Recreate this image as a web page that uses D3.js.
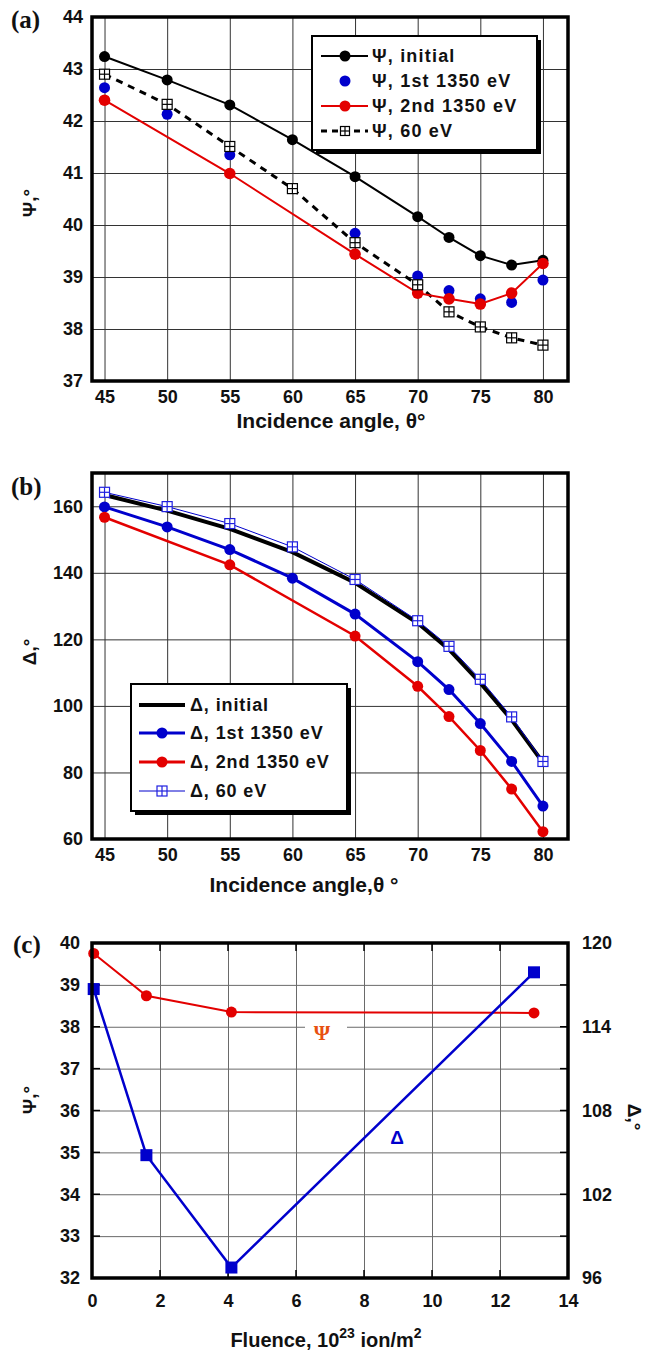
<!DOCTYPE html>
<html>
<head>
<meta charset="utf-8">
<script src="https://cdn.jsdelivr.net/npm/d3@7"></script>
<style>
  body { margin: 0; background: #fff; }
  svg text { font-family: "Liberation Sans", Arial, sans-serif; font-weight: bold; fill: #111; }
  svg text.panel-tag { font-family: "Liberation Serif", "Times New Roman", serif; font-size: 25px; }
</style>
</head>
<body>
<svg id="chart" width="660" height="1351"></svg>
<script>
'use strict';

// ---- data ----
const angles = [45, 50, 55, 60, 65, 70, 72.5, 75, 77.5, 80];
const angleTicks = [45, 50, 55, 60, 65, 70, 75, 80];

// panel (a): Psi vs incidence angle
const psiInitial = [43.24, 42.79, 42.31, 41.64, 40.93, 40.16, 39.76, 39.41, 39.23, 39.32];
const psi1stAngles = [45, 50, 55, 65, 70, 72.5, 75, 77.5, 80];
const psi1st = [42.64, 42.13, 41.35, 39.84, 39.02, 38.74, 38.58, 38.51, 38.94];
const psi2ndAngles = [45, 55, 65, 70, 72.5, 75, 77.5, 80];
const psi2nd = [42.40, 40.99, 39.44, 38.69, 38.58, 38.48, 38.69, 39.26];
const psi60 = [42.90, 42.32, 41.51, 40.70, 39.66, 38.85, 38.33, 38.04, 37.83, 37.69];
const psiTicks = [37, 38, 39, 40, 41, 42, 43, 44];

// panel (b): Delta vs incidence angle
const deltaInitial = [163.4, 158.7, 153.2, 146.2, 137.0, 124.9, 117.0, 106.9, 95.8, 83.0];
const delta1st = [159.8, 153.8, 147.0, 138.4, 127.6, 113.3, 104.9, 94.7, 83.3, 69.9];
const delta2ndAngles = [45, 55, 65, 70, 72.5, 75, 77.5, 80];
const delta2nd = [156.7, 142.4, 121.0, 105.9, 96.8, 86.6, 75.0, 62.2];
const delta60 = [164.2, 159.9, 154.8, 147.8, 138.0, 125.6, 117.9, 108.0, 96.7, 83.3];
const deltaTicks = [60, 80, 100, 120, 140, 160];

// panel (c): Psi and Delta vs fluence
const fluence = [0.05, 1.6, 4.1, 13.0];
const psiFluence = [39.75, 38.74, 38.35, 38.33];
const deltaFluence = [116.7, 104.8, 96.75, 117.9];
const fluenceTicks = [0, 2, 4, 6, 8, 10, 12, 14];
const psiFluenceTicks = [32, 33, 34, 35, 36, 37, 38, 39, 40];
const deltaFluenceTicks = [96, 102, 108, 114, 120];

const BLUE = '#0000cc';
const RED = '#e30000';
const TICK_FONT = 18;
const fmt = d3.format('~g');

const svg = d3.select('#chart');

// Square with a cross inside, like the "60 eV" marker.
function gridSquare(g, cx, cy, size, color) {
  const h = size / 2;
  g.append('rect')
    .attr('x', cx - h).attr('y', cy - h)
    .attr('width', size).attr('height', size)
    .attr('fill', '#fff').attr('stroke', color).attr('stroke-width', 1.2);
  g.append('line').attr('x1', cx).attr('x2', cx).attr('y1', cy - h).attr('y2', cy + h)
    .attr('stroke', color).attr('stroke-width', 1.2);
  g.append('line').attr('x1', cx - h).attr('x2', cx + h).attr('y1', cy).attr('y2', cy)
    .attr('stroke', color).attr('stroke-width', 1.2);
}

function drawGrid(g, x, y, xGrid, yGrid, color) {
  const [x0, x1] = x.range();
  const [y1, y0] = y.range();
  g.append('g')
    .attr('transform', `translate(0,${y0})`)
    .call(d3.axisBottom(x).tickValues(xGrid).tickSize(y1 - y0).tickFormat(''))
    .call(s => s.select('.domain').remove())
    .selectAll('line').attr('stroke', color).attr('stroke-width', 1);
  g.append('g')
    .attr('transform', `translate(${x0},0)`)
    .call(d3.axisRight(y).tickValues(yGrid).tickSize(x1 - x0).tickFormat(''))
    .call(s => s.select('.domain').remove())
    .selectAll('line').attr('stroke', color).attr('stroke-width', 1);
}

function drawFrame(g, x, y) {
  const [x0, x1] = x.range();
  const [y1, y0] = y.range();
  g.append('rect')
    .attr('x', x0).attr('y', y0).attr('width', x1 - x0).attr('height', y1 - y0)
    .attr('fill', 'none').attr('stroke', '#000').attr('stroke-width', 3.5);
}

function tickLabels(g, x, y, xTicks, yTicks, xPad) {
  const [y1] = y.range();
  const [x0] = x.range();
  g.append('g')
    .attr('transform', `translate(0,${y1})`)
    .call(d3.axisBottom(x).tickValues(xTicks).tickFormat(fmt).tickSize(0).tickPadding(xPad))
    .call(s => s.select('.domain').remove())
    .selectAll('text').style('font-size', TICK_FONT + 'px').attr('fill', '#111');
  g.append('g')
    .attr('transform', `translate(${x0},0)`)
    .call(d3.axisLeft(y).tickValues(yTicks).tickFormat(fmt).tickSize(0).tickPadding(9))
    .call(s => s.select('.domain').remove())
    .selectAll('text').style('font-size', TICK_FONT + 'px').attr('fill', '#111');
}

function legendBox(g, x0, y0, w, h) {
  g.append('rect').attr('x', x0 + 4).attr('y', y0 + 4).attr('width', w).attr('height', h).attr('fill', '#000');
  g.append('rect').attr('x', x0).attr('y', y0).attr('width', w).attr('height', h)
    .attr('fill', '#fff').attr('stroke', '#000').attr('stroke-width', 2);
}

const pairs = (xs, ys) => xs.map((v, i) => [v, ys[i]]);

// ================= panel (a) =================
{
  const g = svg.append('g');
  const x = d3.scaleLinear().domain([44, 82]).range([92, 568]);
  const y = d3.scaleLinear().domain([37, 44]).range([381, 17]);
  const line = d3.line().x(d => x(d[0])).y(d => y(d[1]));

  drawGrid(g, x, y, angleTicks, [38, 39, 40, 41, 42, 43], '#333');

  // 60 eV dashed
  g.append('path').datum(pairs(angles, psi60)).attr('d', line)
    .attr('fill', 'none').attr('stroke', '#000').attr('stroke-width', 3).attr('stroke-dasharray', '7,6');
  // initial
  g.append('path').datum(pairs(angles, psiInitial)).attr('d', line)
    .attr('fill', 'none').attr('stroke', '#000').attr('stroke-width', 2);
  // 2nd
  g.append('path').datum(pairs(psi2ndAngles, psi2nd)).attr('d', line)
    .attr('fill', 'none').attr('stroke', RED).attr('stroke-width', 2);

  g.append('g').selectAll('circle').data(pairs(angles, psiInitial)).join('circle')
    .attr('cx', d => x(d[0])).attr('cy', d => y(d[1])).attr('r', 5.5).attr('fill', '#000');
  g.append('g').selectAll('circle').data(pairs(psi1stAngles, psi1st)).join('circle')
    .attr('cx', d => x(d[0])).attr('cy', d => y(d[1])).attr('r', 5.5).attr('fill', BLUE);
  g.append('g').selectAll('circle').data(pairs(psi2ndAngles, psi2nd)).join('circle')
    .attr('cx', d => x(d[0])).attr('cy', d => y(d[1])).attr('r', 5.8).attr('fill', RED);
  const sq = g.append('g');
  pairs(angles, psi60).forEach(d => gridSquare(sq, x(d[0]), y(d[1]), 10, '#000'));

  drawFrame(g, x, y);
  tickLabels(g, x, y, angleTicks, psiTicks, 9);

  // legend
  const lg = g.append('g');
  legendBox(lg, 312, 36, 225, 114);
  const rowsA = ['Ψ, initial', 'Ψ, 1st 1350 eV', 'Ψ, 2nd 1350 eV', 'Ψ, 60 eV'];
  const rowY = [56, 81, 106, 131];
  rowsA.forEach((t, i) => {
    const cy = rowY[i];
    if (i === 0 || i === 2) {
      lg.append('line').attr('x1', 321).attr('x2', 368).attr('y1', cy).attr('y2', cy)
        .attr('stroke', i === 0 ? '#000' : RED).attr('stroke-width', 2);
    }
    if (i === 3) {
      lg.append('line').attr('x1', 321).attr('x2', 368).attr('y1', cy).attr('y2', cy)
        .attr('stroke', '#000').attr('stroke-width', 3).attr('stroke-dasharray', '6,5');
      gridSquare(lg, 345, cy, 9, '#000');
    } else {
      lg.append('circle').attr('cx', 345).attr('cy', cy).attr('r', 5.5)
        .attr('fill', [ '#000', BLUE, RED ][i]);
    }
    lg.append('text').attr('x', 372).attr('y', cy).attr('dy', '0.36em')
      .style('font-size', '18px').style('letter-spacing', '1.2px').text(t);
  });

  g.append('text').attr('transform', 'translate(36,203) rotate(-90)')
    .attr('text-anchor', 'middle').style('font-size', '19px').text('Ψ,°');
  g.append('text').attr('x', 331).attr('y', 428).attr('text-anchor', 'middle')
    .style('font-size', '21px').text('Incidence angle, θ°');
  g.append('text').attr('class', 'panel-tag').attr('x', 11).attr('y', 28).text('(a)');
}

// ================= panel (b) =================
{
  const g = svg.append('g');
  const x = d3.scaleLinear().domain([44, 82]).range([92, 568]);
  const y = d3.scaleLinear().domain([60, 170]).range([839, 473]);
  const line = d3.line().x(d => x(d[0])).y(d => y(d[1]));

  drawGrid(g, x, y, angleTicks, [80, 100, 120, 140, 160], '#333');

  g.append('path').datum(pairs(angles, deltaInitial)).attr('d', line)
    .attr('fill', 'none').attr('stroke', '#000').attr('stroke-width', 4);
  g.append('path').datum(pairs(angles, delta60)).attr('d', line)
    .attr('fill', 'none').attr('stroke', BLUE).attr('stroke-width', 1);
  g.append('path').datum(pairs(angles, delta1st)).attr('d', line)
    .attr('fill', 'none').attr('stroke', BLUE).attr('stroke-width', 3);
  g.append('path').datum(pairs(delta2ndAngles, delta2nd)).attr('d', line)
    .attr('fill', 'none').attr('stroke', RED).attr('stroke-width', 2.5);

  g.append('g').selectAll('circle').data(pairs(angles, delta1st)).join('circle')
    .attr('cx', d => x(d[0])).attr('cy', d => y(d[1])).attr('r', 5.5).attr('fill', BLUE);
  g.append('g').selectAll('circle').data(pairs(delta2ndAngles, delta2nd)).join('circle')
    .attr('cx', d => x(d[0])).attr('cy', d => y(d[1])).attr('r', 5.5).attr('fill', RED);
  const sq = g.append('g');
  pairs(angles, delta60).forEach(d => gridSquare(sq, x(d[0]), y(d[1]), 10, '#2020e0'));

  drawFrame(g, x, y);
  tickLabels(g, x, y, angleTicks, deltaTicks, 9);

  const lg = g.append('g');
  legendBox(lg, 131, 684, 216, 127);
  const rowsB = ['Δ, initial', 'Δ, 1st 1350 eV', 'Δ, 2nd 1350 eV', 'Δ, 60 eV'];
  const rowY = [705, 733, 762, 791];
  rowsB.forEach((t, i) => {
    const cy = rowY[i];
    const col = ['#000', BLUE, RED, BLUE][i];
    lg.append('line').attr('x1', 139).attr('x2', 185).attr('y1', cy).attr('y2', cy)
      .attr('stroke', col).attr('stroke-width', [4, 3, 3, 1][i]);
    if (i === 1 || i === 2) {
      lg.append('circle').attr('cx', 162).attr('cy', cy).attr('r', 5.5).attr('fill', col);
    } else if (i === 3) {
      gridSquare(lg, 162, cy, 10, '#2020e0');
    }
    lg.append('text').attr('x', 190).attr('y', cy).attr('dy', '0.36em')
      .style('font-size', '18px').style('letter-spacing', '0.9px').text(t);
  });

  g.append('text').attr('transform', 'translate(36,652) rotate(-90)')
    .attr('text-anchor', 'middle').style('font-size', '19px').text('Δ,°');
  g.append('text').attr('x', 304).attr('y', 892).attr('text-anchor', 'middle')
    .style('font-size', '21px').text('Incidence angle,θ °');
  g.append('text').attr('class', 'panel-tag').attr('x', 11).attr('y', 495).text('(b)');
}

// ================= panel (c) =================
{
  const g = svg.append('g');
  const x = d3.scaleLinear().domain([0, 14]).range([92, 568]);
  const y = d3.scaleLinear().domain([32, 40]).range([1278, 943]);
  const yR = d3.scaleLinear().domain([96, 120]).range([1278, 943]);
  const line = d3.line().x(d => x(d[0])).y(d => y(d[1]));
  const lineR = d3.line().x(d => x(d[0])).y(d => yR(d[1]));

  drawGrid(g, x, y, [2, 4, 6, 8, 10, 12], [33, 34, 35, 36, 37, 38, 39], '#6a6a6a');

  // inward ticks, darker than the grid
  const ticks = g.append('g').attr('stroke', '#000').attr('stroke-width', 1.5);
  [2, 4, 6, 8, 10, 12].forEach(v => {
    ticks.append('line').attr('x1', x(v)).attr('x2', x(v)).attr('y1', 943).attr('y2', 951);
    ticks.append('line').attr('x1', x(v)).attr('x2', x(v)).attr('y1', 1278).attr('y2', 1270);
  });
  [33, 34, 35, 36, 37, 38, 39].forEach(v => {
    ticks.append('line').attr('x1', 92).attr('x2', 100).attr('y1', y(v)).attr('y2', y(v));
    ticks.append('line').attr('x1', 568).attr('x2', 560).attr('y1', y(v)).attr('y2', y(v));
  });

  // white box behind the Psi annotation
  g.append('rect').attr('x', 305).attr('y', 1018).attr('width', 42).attr('height', 26).attr('fill', '#fff');

  g.append('path').datum(pairs(fluence, psiFluence)).attr('d', line)
    .attr('fill', 'none').attr('stroke', RED).attr('stroke-width', 2);
  g.append('path').datum(pairs(fluence, deltaFluence)).attr('d', lineR)
    .attr('fill', 'none').attr('stroke', BLUE).attr('stroke-width', 2.5);

  g.append('g').selectAll('circle').data(pairs(fluence, psiFluence)).join('circle')
    .attr('cx', d => x(d[0])).attr('cy', d => y(d[1])).attr('r', 5.5).attr('fill', RED);
  g.append('g').selectAll('rect').data(pairs(fluence, deltaFluence)).join('rect')
    .attr('x', d => x(d[0]) - 6).attr('y', d => yR(d[1]) - 6)
    .attr('width', 12).attr('height', 12).attr('fill', BLUE);

  drawFrame(g, x, y);

  g.append('g')
    .attr('transform', 'translate(0,1278)')
    .call(d3.axisBottom(x).tickValues(fluenceTicks).tickSize(0).tickPadding(16))
    .call(s => s.select('.domain').remove())
    .selectAll('text').style('font-size', TICK_FONT + 'px').attr('fill', '#111');
  g.append('g')
    .attr('transform', 'translate(92,0)')
    .call(d3.axisLeft(y).tickValues(psiFluenceTicks).tickSize(0).tickPadding(12))
    .call(s => s.select('.domain').remove())
    .selectAll('text').style('font-size', TICK_FONT + 'px').attr('fill', '#111');
  g.append('g')
    .attr('transform', 'translate(568,0)')
    .call(d3.axisRight(yR).tickValues(deltaFluenceTicks).tickSize(0).tickPadding(14))
    .call(s => s.select('.domain').remove())
    .selectAll('text').style('font-size', TICK_FONT + 'px').attr('fill', '#111');

  g.append('text').attr('x', 322).attr('y', 1032).attr('dy', '0.36em').attr('text-anchor', 'middle')
    .style('font-family', '"Liberation Serif", serif').style('font-size', '21px')
    .style('fill', '#e85010').text('Ψ');
  g.append('text').attr('x', 397).attr('y', 1137).attr('dy', '0.36em').attr('text-anchor', 'middle')
    .style('font-size', '19px').style('fill', BLUE).text('Δ');

  g.append('text').attr('transform', 'translate(36,1100) rotate(-90)')
    .attr('text-anchor', 'middle').style('font-size', '19px').text('Ψ,°');
  g.append('text').attr('transform', 'translate(628,1117) rotate(90)')
    .attr('text-anchor', 'middle').style('font-size', '19px').text('Δ,°');

  const xl = g.append('text').attr('x', 326).attr('y', 1347).attr('text-anchor', 'middle')
    .style('font-size', '20px');
  xl.append('tspan').text('Fluence, 10');
  xl.append('tspan').attr('dy', -9).style('font-size', '14px').text('23');
  xl.append('tspan').attr('dy', 9).text(' ion/m');
  xl.append('tspan').attr('dy', -9).style('font-size', '14px').text('2');

  g.append('text').attr('class', 'panel-tag').attr('x', 13).attr('y', 953).text('(c)');
}
</script>
</body>
</html>
